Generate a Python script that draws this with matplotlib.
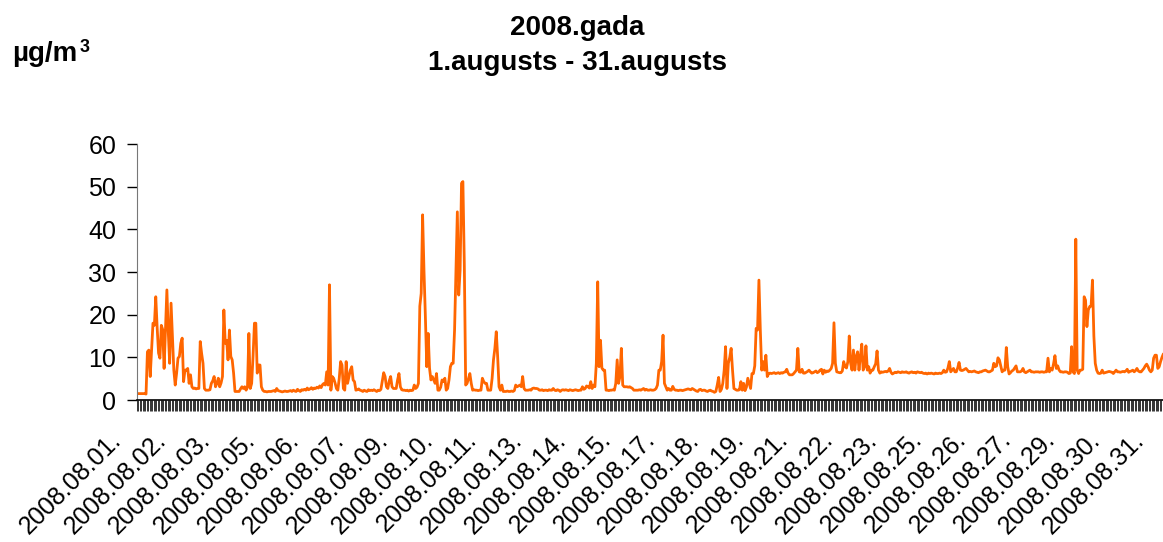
import matplotlib
import matplotlib.pyplot as plt
import matplotlib.transforms as mtransforms
import numpy as np

matplotlib.use("Agg")

plt.rcParams["font.family"] = ["Liberation Sans", "DejaVu Sans"]

# hourly concentrations, 1-31 August 2008 (24 values per day)
day01 = [1.5, 1.5, 1.5, 1.5, 1.5, 1.5, 1.4, 11.3, 11.7, 5.5, 11.7, 18.0,
         17.5, 24.2, 17.0, 11.0, 9.8, 17.5, 16.5, 7.4, 16.5, 25.8, 16.0, 8.6]
day02 = [22.7, 15.0, 7.0, 3.5, 6.3, 9.8, 10.2, 13.3, 14.5, 4.3, 7.0, 7.0,
         7.4, 3.9, 5.9, 3.1, 2.7, 2.8, 2.6, 2.7, 2.7, 13.7, 10.9, 8.6]
day03 = [2.7, 2.3, 2.3, 2.3, 2.4, 3.9, 4.5, 5.5, 3.1, 3.9, 5.1, 3.1,
         4.0, 5.5, 21.1, 13.3, 14.0, 9.4, 16.4, 10.2, 9.4, 6.3, 2.0, 2.0]
day04 = [2.0, 2.0, 2.6, 3.1, 2.7, 3.1, 2.3, 3.0, 15.6, 2.7, 3.9, 10.2,
         18.0, 18.0, 6.3, 8.2, 8.2, 3.1, 2.3, 2.0, 2.0, 1.9, 2.0, 2.0]
day05 = [2.0, 2.1, 2.2, 2.0, 2.7, 2.2, 2.1, 2.0, 1.9, 2.0, 2.1, 2.0,
         2.0, 2.1, 2.2, 2.0, 2.3, 2.1, 2.0, 2.5, 2.2, 2.0, 2.4, 2.3]
day06 = [2.5, 2.3, 2.8, 2.4, 2.6, 2.9, 2.5, 2.8, 2.7, 3.0, 2.8, 3.3,
         2.9, 3.6, 3.9, 3.5, 6.6, 3.5, 27.0, 2.3, 5.5, 5.1, 4.0, 2.7]
day07 = [2.3, 5.0, 9.0, 8.2, 2.7, 2.3, 9.0, 3.9, 5.5, 7.0, 7.8, 4.7,
         4.3, 2.3, 2.4, 2.6, 2.3, 2.2, 2.0, 2.3, 2.1, 2.0, 2.4, 2.2]
day08 = [2.3, 2.2, 2.4, 2.2, 2.0, 2.3, 2.2, 2.5, 4.5, 6.4, 5.5, 3.1,
         2.7, 4.5, 5.5, 3.1, 2.7, 2.7, 2.7, 4.7, 6.2, 3.1, 2.4, 2.3]
day09 = [2.3, 2.2, 2.3, 2.1, 2.3, 2.2, 2.3, 3.5, 2.7, 3.0, 3.9, 22.0,
         25.0, 43.4, 30.3, 19.5, 7.8, 15.6, 7.4, 4.7, 5.5, 4.7, 3.9, 6.2]
day10 = [2.3, 2.3, 3.0, 4.7, 4.3, 5.1, 2.3, 2.7, 4.7, 7.8, 8.6, 8.6,
         16.4, 30.0, 44.1, 24.6, 30.5, 50.8, 51.2, 32.0, 3.5, 3.9, 5.0, 6.2]
day11 = [3.9, 2.3, 2.4, 2.3, 2.3, 2.2, 2.3, 2.3, 5.1, 4.3, 3.9, 3.9,
         2.3, 2.3, 2.3, 5.0, 9.4, 12.1, 16.0, 10.2, 3.1, 2.3, 3.5, 2.0]
day12 = [2.0, 2.0, 2.1, 2.0, 2.0, 2.1, 2.0, 2.2, 3.5, 3.1, 3.3, 3.5,
         3.1, 5.5, 2.7, 2.3, 2.3, 2.3, 2.4, 2.3, 2.7, 2.8, 2.7, 2.7]
day13 = [2.6, 2.3, 2.3, 2.4, 2.2, 2.3, 2.3, 2.2, 2.4, 2.3, 2.3, 2.7,
         2.3, 2.2, 2.4, 2.3, 2.0, 2.3, 2.4, 2.3, 2.4, 2.3, 2.2, 2.4]
day14 = [2.3, 2.2, 2.3, 2.4, 2.3, 2.2, 2.3, 2.3, 3.1, 2.5, 2.7, 3.3,
         3.1, 2.8, 4.3, 2.7, 3.5, 3.1, 8.6, 27.7, 7.8, 14.0, 7.5, 7.0]
day15 = [7.0, 2.3, 2.3, 2.2, 2.3, 2.3, 2.4, 2.3, 3.9, 9.4, 3.9, 5.5,
         12.1, 3.5, 3.1, 3.1, 3.1, 3.0, 3.1, 2.9, 2.7, 2.3, 2.3, 2.3]
day16 = [2.3, 2.4, 2.3, 2.5, 2.7, 2.3, 2.5, 2.3, 2.3, 2.4, 2.3, 2.3,
         2.4, 2.7, 3.5, 7.0, 7.0, 9.0, 15.2, 3.9, 3.1, 2.3, 2.7, 2.3]
day17 = [2.3, 3.2, 2.5, 2.3, 2.3, 2.2, 2.3, 2.3, 2.2, 2.3, 2.4, 2.5,
         2.6, 2.5, 2.4, 2.7, 2.5, 2.3, 2.1, 2.0, 2.4, 2.5, 2.2, 2.3]
day18 = [2.3, 2.1, 2.0, 2.2, 2.3, 2.1, 2.0, 1.8, 2.0, 3.5, 5.3, 2.0,
         2.5, 3.9, 7.0, 12.5, 2.7, 8.6, 10.0, 12.1, 7.0, 2.7, 2.5, 2.3]
day19 = [2.3, 2.4, 4.3, 2.3, 3.9, 2.2, 3.0, 5.1, 3.9, 2.7, 6.2, 6.2,
         8.0, 16.8, 16.4, 28.1, 16.4, 7.0, 9.0, 7.0, 10.5, 5.5, 6.2, 6.3]
day20 = [6.2, 6.3, 6.4, 6.2, 6.3, 6.4, 6.2, 6.4, 6.3, 6.5, 6.6, 7.2,
         6.3, 5.9, 5.9, 5.9, 6.2, 6.6, 7.0, 12.1, 6.6, 6.5, 7.2, 6.3]
day21 = [6.3, 6.5, 6.7, 7.0, 6.6, 6.3, 6.4, 6.6, 6.8, 6.4, 6.6, 7.0,
         7.2, 6.1, 7.0, 6.5, 6.8, 6.7, 7.0, 7.4, 8.6, 18.1, 8.6, 6.6]
day22 = [6.5, 6.4, 6.4, 6.8, 9.0, 7.8, 7.5, 9.0, 15.0, 8.6, 7.0, 11.7,
         7.0, 10.2, 11.3, 7.0, 10.2, 13.1, 7.0, 7.8, 12.7, 7.0, 7.8, 6.3]
day23 = [7.0, 7.0, 7.8, 8.5, 11.5, 7.0, 6.3, 6.6, 6.5, 6.6, 6.7, 6.6,
         6.8, 7.4, 6.5, 6.1, 6.3, 6.5, 6.4, 6.6, 6.5, 6.4, 6.6, 6.5]
day24 = [6.5, 6.6, 6.4, 6.3, 6.5, 6.6, 6.4, 6.5, 6.3, 6.6, 6.5, 6.4,
         6.5, 6.3, 6.2, 6.3, 6.1, 6.3, 6.2, 6.3, 6.2, 6.1, 6.3, 6.2]
day25 = [6.2, 6.3, 6.2, 6.4, 7.0, 6.5, 6.6, 7.5, 9.0, 6.6, 7.0, 7.4,
         6.6, 6.6, 7.5, 8.8, 7.0, 6.9, 7.0, 7.2, 7.4, 7.0, 6.6, 6.7]
day26 = [6.6, 6.7, 6.8, 6.6, 6.5, 6.4, 6.6, 6.6, 6.8, 6.9, 7.0, 6.8,
         6.6, 6.6, 6.8, 7.0, 8.6, 7.8, 8.0, 9.9, 9.4, 8.0, 6.6, 7.0]
day27 = [7.0, 12.3, 7.8, 6.1, 6.4, 6.8, 7.0, 7.5, 8.0, 6.6, 6.6, 6.6,
         6.8, 7.4, 6.6, 6.4, 6.6, 6.8, 7.0, 6.6, 6.6, 6.5, 6.6, 6.6]
day28 = [6.6, 6.5, 6.6, 6.6, 6.5, 6.6, 6.6, 9.8, 6.6, 7.4, 7.0, 8.5,
         10.4, 7.4, 8.0, 7.0, 6.6, 6.6, 6.5, 6.6, 6.6, 6.5, 6.2, 6.3]
day29 = [12.5, 6.6, 6.2, 37.7, 7.0, 6.2, 7.0, 7.0, 7.2, 24.2, 23.4, 17.2,
         21.1, 21.9, 22.0, 28.1, 15.0, 8.6, 7.0, 6.3, 6.2, 6.3, 7.0, 6.3]
day30 = [6.4, 6.5, 6.6, 6.7, 6.6, 6.5, 6.2, 6.6, 7.0, 6.6, 6.6, 6.5,
         6.6, 6.7, 6.6, 6.8, 7.2, 6.5, 6.7, 6.8, 7.0, 6.6, 6.9, 7.4]
day31 = [6.8, 6.6, 6.6, 7.0, 7.4, 8.0, 8.4, 7.8, 7.0, 6.6, 7.0, 9.8,
         10.5, 10.5, 7.4, 7.8, 9.0, 10.0, 10.8, 10.5, 10.0, 9.8, 9.5, 9.6]

days = [day01, day02, day03, day04, day05, day06, day07, day08, day09, day10,
        day11, day12, day13, day14, day15, day16, day17, day18, day19, day20,
        day21, day22, day23, day24, day25, day26, day27, day28, day29, day30,
        day31]
day_names = [f"2008.08.{d:02d}." for d in range(1, 32)]

title_lines = ["2008.gada", "1.augusts - 31.augusts"]
unit = "µg/m"

values = np.concatenate([np.array(d, dtype=float) for d in days])
hour_labels = [name for name, d in zip(day_names, days) for _ in d]

W, H = 1163, 542
fig = plt.figure(figsize=(W / 100, H / 100), dpi=100)
ax = fig.add_axes([137 / W, 142 / H, 1034 / W, 256 / H])

x = np.arange(len(values))
ax.plot(x, values, color="#FF6600", lw=2.0, solid_joinstyle="round")

ax.set_xlim(-0.5, len(values) - 0.5)
ax.set_ylim(0, 60)
ax.set_yticks(np.arange(0, 61, 10))
for side in ("top", "right"):
    ax.spines[side].set_visible(False)
ax.spines["left"].set_color("#777777")
ax.spines["bottom"].set_color("black")
ax.spines["bottom"].set_linewidth(1.2)

ax.tick_params(axis="y", length=7, width=1, pad=8, labelsize=18, color="black")

# every hour gets a tick mark, every 32nd hour a label (as in the spreadsheet)
step = 32
ax.set_xticks(x[::step])
ax.set_xticklabels(hour_labels[::step])
ax.set_xticks(np.arange(-0.5, len(values), 1), minor=True)
ax.tick_params(axis="x", which="minor", length=8, width=0.7, color="#333333")
ax.tick_params(axis="x", which="major", length=0, pad=0, labelsize=18)

shift = mtransforms.ScaledTranslation(-20 / 100, -36 / 100, fig.dpi_scale_trans)
for lbl in ax.get_xticklabels():
    lbl.set_rotation(45)
    lbl.set_ha("right")
    lbl.set_va("center")
    lbl.set_rotation_mode("anchor")
    lbl.set_transform(lbl.get_transform() + shift)

fig.text(577 / W, 1 - 35 / H, title_lines[0], ha="center", va="baseline",
         fontsize=20, fontweight="bold")
fig.text(577 / W, 1 - 70 / H, title_lines[1], ha="center", va="baseline",
         fontsize=20, fontweight="bold")
fig.text(12 / W, 1 - 61 / H, unit, ha="left", va="baseline",
         fontsize=20, fontweight="bold")
fig.text(80 / W, 1 - 52 / H, "3", ha="left", va="baseline",
         fontsize=13, fontweight="bold")

fig.savefig("out.png", dpi=100)
